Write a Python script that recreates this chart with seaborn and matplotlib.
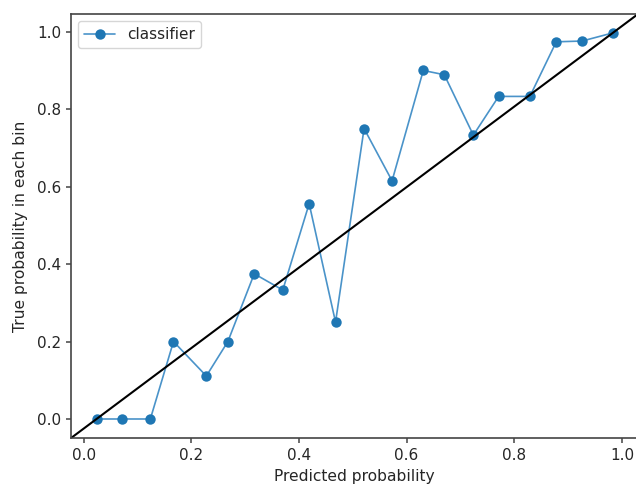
import matplotlib
matplotlib.use("Agg")
import matplotlib.pyplot as plt
import seaborn as sns
import pandas as pd

mean_predicted = [0.024, 0.072, 0.124, 0.167, 0.228, 0.268, 0.317, 0.370, 0.419, 0.468,
                  0.521, 0.573, 0.631, 0.670, 0.724, 0.771, 0.829, 0.878, 0.926, 0.983]
fraction_positive = [0.0, 0.0, 0.0, 0.2, 0.111, 0.2, 0.375, 0.333, 0.556, 0.25,
                     0.75, 0.615, 0.9, 0.889, 0.733, 0.833, 0.833, 0.974, 0.976, 0.997]
series_label = "classifier"
x_label = "Predicted probability"
y_label = "True probability in each bin"

sns.set_style("ticks")
plt.rcParams['font.family'] = ['DejaVu Sans']

df = pd.DataFrame({"x": mean_predicted, "y": fraction_positive})

fig = plt.figure(figsize=(6.36, 4.86), dpi=100)
W, H = 636, 486
left, right, top, bottom = 70.7, 638.6, 13.6, 438.3
ax = fig.add_axes([left / W, (H - bottom) / H, (right - left) / W, (bottom - top) / H])

sns.lineplot(data=df, x="x", y="y", ax=ax, marker="o", markersize=7.5,
             color="#4a93c9", linewidth=1.2, markeredgewidth=0,
             markerfacecolor="#1f77b4", label=series_label,
             estimator=None, sort=False)
ax.plot([0, 1], [0, 1], transform=ax.transAxes, color="black", linewidth=1.5)

ax.set_xticks([0.0, 0.2, 0.4, 0.6, 0.8, 1.0])
ax.set_yticks([0.0, 0.2, 0.4, 0.6, 0.8, 1.0])
ax.set_xlabel(x_label, fontsize=11.2)
ax.set_ylabel(y_label, fontsize=11.2, labelpad=6)
ax.tick_params(labelsize=11, color="#444444", width=1.1, labelcolor="#262626")
for s in ax.spines.values():
    s.set_visible(True)
    s.set_linewidth(1.2)
    s.set_color("#444444")
ax.legend(loc="upper left", fontsize=11, frameon=True)

fig.savefig("out.png", dpi=100)
